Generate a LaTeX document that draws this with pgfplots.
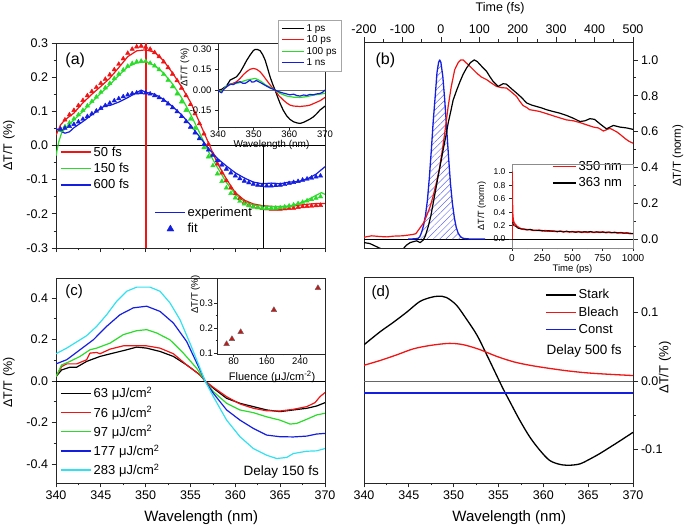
\documentclass[border=0pt]{standalone}
\usepackage{fontspec}
\setmainfont{Liberation Sans}
\usepackage{pgfplots}
\pgfplotsset{compat=1.18}
\usetikzlibrary{patterns.meta}

\definecolor{cred}{RGB}{240,20,20}
\definecolor{cgreen}{RGB}{40,220,40}
\definecolor{cblue}{RGB}{20,30,225}
\definecolor{ccyan}{RGB}{50,225,240}
\definecolor{tri}{RGB}{205,20,20}

\newcommand{\fs}[1]{\fontsize{#1}{#1}\selectfont}

\pgfplotsset{
  base/.style={
    scale only axis, anchor=south west,
    axis line style={black!85, line width=0.8pt},
    tick style={black!85, line width=0.7pt},
    tick align=outside,
    major tick length=4.5pt, minor tick length=2.5pt,
    /pgf/number format/assume math mode=true,
    /pgf/number format/1000 sep={},
    tick label style={font=\fs{12.5}},
    legend cell align=left,
    legend image code/.code={\draw[mark repeat=2,mark phase=2,##1] plot coordinates {(0pt,0pt)(15pt,0pt)(30pt,0pt)};},
    legend image post style={line width=1.5pt},
    every axis plot/.append style={line join=round},
  },
  wl/.style={xmin=340, xmax=370, xtick={340,345,...,370}, minor x tick num=1},
  prec/.style={yticklabel style={/pgf/number format/fixed, /pgf/number format/fixed zerofill,
    /pgf/number format/precision=#1}},
}

\begin{document}
\begin{tikzpicture}
\path[use as bounding box] (0,0) rectangle (685pt,526pt);

% ---------------- (a) ----------------
\begin{axis}[base, wl, at={(56pt,278pt)}, width=269pt, height=205pt,
  ymin=-0.3, ymax=0.3, ytick={-0.3,-0.2,-0.1,0,0.1,0.2,0.3}, minor y tick num=1,
  xticklabels={}, xtick pos=bottom, ytick pos=left, prec=1,
  ylabel={ΔT/T (\%)},
  every axis y label/.style={at={(axis description cs:-0.175,0.5)}, rotate=90, anchor=center, font=\fs{12.5}},
  legend style={at={(axis description cs:0.015,0.505)}, anchor=north west, draw=none, fill=none,
    font=\fs{13}, row sep=1.5pt, inner sep=0pt},
]
\addplot[black, line width=0.8pt, forget plot] coordinates {(340,0) (370,0)};
\addplot[color=cred, line width=1.2pt] coordinates {
(340,0.030) (340.5,0.060) (341,0.075) (342,0.095) (343,0.125) (344,0.150) (345,0.173) (346,0.197)
(347,0.228) (348,0.260) (349,0.277) (350,0.280) (351,0.273) (352,0.248) (353,0.212) (354,0.172)
(355,0.127) (356,0.068) (357,0.008) (358,-0.052) (359,-0.098) (360,-0.138) (361,-0.160) (362,-0.171)
(363,-0.176) (364,-0.178) (365,-0.179) (366,-0.178) (367,-0.175) (368,-0.172) (369,-0.170) (370,-0.170)};
\addlegendentry{50 fs}
\addplot[only marks, mark=triangle*, mark size=2.6pt, color=cred, forget plot] coordinates {
(340.5,0.048) (341.0,0.075) (341.5,0.090) (342.0,0.103) (342.5,0.117) (343.0,0.132) (343.5,0.146)
(344.0,0.158) (344.5,0.170) (345.0,0.182) (345.5,0.194) (346.0,0.207) (346.5,0.222) (347.0,0.238)
(347.5,0.254) (348.0,0.270) (348.5,0.282) (349.0,0.289) (349.5,0.291) (350.0,0.288) (350.5,0.282)
(351.0,0.272) (351.5,0.260) (352.0,0.245) (352.5,0.228) (353.0,0.209) (353.5,0.190) (354.0,0.168)
(354.5,0.146) (355.0,0.120) (355.5,0.093) (356.0,0.064) (356.5,0.034) (357.0,0.004) (357.5,-0.026)
(358.0,-0.054) (358.5,-0.080) (359.0,-0.103) (359.5,-0.124) (360.0,-0.141) (360.5,-0.155) (361.0,-0.166)
(361.5,-0.174) (362.0,-0.179) (362.5,-0.182) (363.0,-0.184) (363.5,-0.185) (364.0,-0.186) (364.5,-0.186)
(365.0,-0.186) (365.5,-0.185) (366.0,-0.184) (366.5,-0.183) (367.0,-0.181) (367.5,-0.179) (368.0,-0.178)
(368.5,-0.177) (369.0,-0.176) (369.5,-0.175)};
\addplot[color=cgreen, line width=1.2pt] coordinates {
(340,-0.030) (340.3,0.010) (340.6,0.035) (341,0.050) (342,0.075) (343,0.100) (344,0.127) (345,0.153)
(346,0.178) (347,0.205) (348,0.230) (349,0.242) (350,0.245) (351,0.234) (352,0.212) (353,0.180)
(354,0.140) (355,0.092) (356,0.038) (357,-0.018) (358,-0.064) (359,-0.108) (360,-0.143) (361,-0.164)
(362,-0.174) (363,-0.178) (364,-0.179) (365,-0.179) (366,-0.177) (367,-0.171) (368,-0.160) (369,-0.146)
(369.6,-0.138) (370,-0.143)};
\addlegendentry{150 fs}
\addplot[only marks, mark=triangle*, mark size=2.6pt, color=cgreen, forget plot] coordinates {
(340.5,0.045) (341.0,0.055) (341.5,0.066) (342.0,0.078) (342.5,0.090) (343.0,0.103) (343.5,0.116)
(344.0,0.129) (344.5,0.142) (345.0,0.156) (345.5,0.169) (346.0,0.182) (346.5,0.196) (347.0,0.209)
(347.5,0.221) (348.0,0.232) (348.5,0.240) (349.0,0.245) (349.5,0.247) (350.0,0.246) (350.5,0.241)
(351.0,0.233) (351.5,0.222) (352.0,0.208) (352.5,0.191) (353.0,0.172) (353.5,0.151) (354.0,0.128)
(354.5,0.103) (355.0,0.077) (355.5,0.050) (356.0,0.022) (356.5,-0.006) (357.0,-0.033) (357.5,-0.059)
(358.0,-0.083) (358.5,-0.105) (359.0,-0.124) (359.5,-0.140) (360.0,-0.153) (360.5,-0.163) (361.0,-0.171)
(361.5,-0.176) (362.0,-0.180) (362.5,-0.182) (363.0,-0.183) (363.5,-0.184) (364.0,-0.184) (364.5,-0.183)
(365.0,-0.182) (365.5,-0.180) (366.0,-0.177) (366.5,-0.174) (367.0,-0.170) (367.5,-0.166) (368.0,-0.162)
(368.5,-0.158) (369.0,-0.154) (369.5,-0.150)};
\addplot[color=cblue, line width=1.2pt] coordinates {
(340,0.050) (340.5,0.042) (341,0.036) (341.5,0.040) (342,0.052) (343,0.070) (344,0.090) (345,0.108)
(345.5,0.118) (346,0.117) (347,0.127) (348,0.140) (349,0.155) (349.5,0.162) (350,0.156) (351,0.150)
(352,0.135) (353,0.114) (354,0.090) (355,0.060) (356,0.026) (357,-0.008) (358,-0.038) (359,-0.060)
(360,-0.080) (361,-0.095) (362,-0.107) (363,-0.112) (364,-0.110) (365,-0.112) (366,-0.107) (367,-0.106)
(368,-0.098) (369,-0.084) (370,-0.062)};
\addlegendentry{600 fs}
\addplot[only marks, mark=triangle*, mark size=2.6pt, color=cblue, forget plot] coordinates {
(340.5,0.048) (341.0,0.051) (341.5,0.056) (342.0,0.062) (342.5,0.069) (343.0,0.077) (343.5,0.085)
(344.0,0.093) (344.5,0.101) (345.0,0.109) (345.5,0.117) (346.0,0.124) (346.5,0.131) (347.0,0.137)
(347.5,0.143) (348.0,0.148) (348.5,0.152) (349.0,0.154) (349.5,0.155) (350.0,0.154) (350.5,0.151)
(351.0,0.146) (351.5,0.140) (352.0,0.132) (352.5,0.122) (353.0,0.111) (353.5,0.099) (354.0,0.085)
(354.5,0.070) (355.0,0.054) (355.5,0.037) (356.0,0.020) (356.5,0.003) (357.0,-0.013) (357.5,-0.029)
(358.0,-0.044) (358.5,-0.057) (359.0,-0.069) (359.5,-0.080) (360.0,-0.089) (360.5,-0.097) (361.0,-0.104)
(361.5,-0.109) (362.0,-0.113) (362.5,-0.116) (363.0,-0.117) (363.5,-0.118) (364.0,-0.118) (364.5,-0.117)
(365.0,-0.116) (365.5,-0.114) (366.0,-0.111) (366.5,-0.108) (367.0,-0.105) (367.5,-0.101) (368.0,-0.098)
(368.5,-0.095) (369.0,-0.092) (369.5,-0.089)};
\addplot[draw=cred, line width=1.8pt, forget plot] coordinates {(350,-0.3) (350,0) (350,0.3)};
\addplot[draw=black, line width=1pt, forget plot] coordinates {(363.1,0) (363.1,-0.3)};
\node[anchor=west, font=\fs{16}] at (axis description cs:0.022,0.917) {(a)};
\end{axis}

% experiment / fit legend of (a)
\begin{axis}[base, hide axis, at={(56pt,278pt)}, width=269pt, height=205pt,
  xmin=0, xmax=1, ymin=0, ymax=1,
  legend style={at={(axis description cs:0.368,0.21)}, anchor=north west, draw=none, fill=none,
    font=\fs{13}, row sep=1.5pt, inner sep=0pt},
  legend image post style={line width=0.4pt},
]
\addlegendimage{color=cblue, line width=1.5pt}
\addlegendentry{experiment}
\addlegendimage{only marks, mark=triangle*, mark size=4pt, color=cblue}
\addlegendentry{fit}
\end{axis}

% inset of (a)
\begin{axis}[base, at={(218pt,399pt)}, width=107pt, height=84pt,
  axis background/.style={fill=white},
  axis line style={black!85, line width=0.7pt},
  xmin=340, xmax=370, xtick={340,350,360,370}, minor x tick num=1,
  ymin=-0.27, ymax=0.344, ytick={-0.15,0,0.15,0.3},
  xtick pos=bottom, ytick pos=left, prec=2,
  tick label style={font=\fs{9.5}}, major tick length=3pt, minor tick length=1.5pt,
  xticklabel style={inner sep=0.5pt},
  xlabel={Wavelength (nm)}, ylabel={ΔT/T (\%)},
  every axis x label/.style={at={(axis description cs:0.5,-0.215)}, anchor=center, font=\fs{10}},
  every axis y label/.style={at={(axis description cs:-0.31,0.71)}, rotate=90, anchor=center, font=\fs{9.5}},
  legend style={at={(axis description cs:0.561,1.274)}, anchor=north west, draw=black!35, line width=0.5pt,
    fill=white, font=\fs{10}, row sep=-1pt, inner xsep=3pt, inner ysep=2pt},
  legend image code/.code={\draw[#1] (0pt,0pt) -- (22pt,0pt);},
  legend image post style={line width=1.3pt},
]
\addplot[black!60, line width=0.6pt, forget plot] coordinates {(340,0) (370,0)};
\addplot[color=black, line width=1.2pt] coordinates {
(340.1,0.0) (341,0.005) (342.4,0.03) (343.4,0.073) (344.3,0.085) (345.2,0.097) (346.2,0.13) (347.1,0.171)
(348,0.215) (349,0.256) (349.9,0.288) (350.4,0.297) (351.1,0.296) (351.8,0.288) (352.5,0.26) (353.2,0.22)
(353.9,0.16) (354.6,0.097) (355.3,0.045) (356,0.0) (356.7,-0.05) (357.4,-0.097) (358.3,-0.148) (359.3,-0.19)
(360.2,-0.215) (361.2,-0.232) (362.1,-0.24) (363,-0.244) (364,-0.236) (364.9,-0.224) (365.8,-0.212)
(366.8,-0.195) (367.7,-0.172) (368.6,-0.146) (369.4,-0.13) (370,-0.117)};
\addlegendentry{1 ps}
\addplot[color=cred, line width=1.2pt] coordinates {
(340.1,0) (341,-0.005) (342.4,0.024) (343.4,0.04) (344.3,0.05) (345.2,0.061) (346.2,0.085) (347.1,0.112)
(348,0.134) (349,0.152) (349.9,0.158) (350.8,0.152) (351.8,0.134) (352.7,0.105) (353.6,0.073) (354.6,0.038)
(355.3,0.015) (356,0) (357,-0.04) (358.3,-0.073) (359.3,-0.095) (360.2,-0.11) (361.2,-0.117) (363,-0.12)
(364.9,-0.115) (365.8,-0.11) (366.7,-0.1) (368.6,-0.078) (370,-0.054)};
\addlegendentry{10 ps}
\addplot[color=cgreen, line width=1.2pt] coordinates {
(340.1,0) (341,-0.01) (342.4,0.03) (343.4,0.04) (345.2,0.049) (346.2,0.055) (347.1,0.065) (348,0.073)
(349,0.078) (350.4,0.085) (351.3,0.075) (352.2,0.061) (353.2,0.04) (354.6,0.02) (356,0) (357.4,-0.025)
(359.3,-0.044) (361.2,-0.052) (363,-0.054) (364.9,-0.048) (366.7,-0.037) (368.6,-0.03) (370,-0.024)};
\addlegendentry{100 ps}
\addplot[color=cblue, line width=1.2pt] coordinates {
(340.1,0) (340.6,-0.015) (341,-0.02) (341.6,0.005) (342.4,0.025) (343.4,0.044) (344.3,0.04) (345.2,0.055)
(346.2,0.061) (346.9,0.05) (347.6,0.049) (348.3,0.06) (349,0.073) (349.5,0.058) (350.1,0.06) (350.7,0.07)
(351.3,0.062) (352.2,0.05) (353.2,0.035) (353.6,0.029) (354.6,0.015) (355.3,0.008) (356,0) (357,-0.012)
(358.3,-0.022) (359.3,-0.029) (360.2,-0.035) (361.2,-0.03) (362.1,-0.04) (363,-0.044) (364,-0.036)
(364.9,-0.04) (365.8,-0.032) (366.7,-0.035) (367.7,-0.028) (368.6,-0.025) (369.4,-0.015) (370,0.0)};
\addlegendentry{1 ns}
\end{axis}

% ---------------- (b) ----------------
\begin{axis}[base, at={(364pt,278pt)}, width=269pt, height=206pt,
  xmin=-200, xmax=500, xtick={-200,-100,0,100,200,300,400,500}, minor x tick num=1,
  ymin=-0.05, ymax=1.10, ytick={0,0.2,0.4,0.6,0.8,1.0}, minor y tick num=1,
  xtick pos=upper, xticklabel pos=upper, ytick pos=right, yticklabel pos=right, prec=1,
  xlabel={Time (fs)}, ylabel={ΔT/T (norm)},
  every axis x label/.style={at={(axis description cs:0.506,1.165)}, anchor=center, font=\fs{12.5}},
  every axis y label/.style={at={(axis description cs:1.167,0.447)}, rotate=90, anchor=center, font=\fs{11.5}},
  legend style={at={(axis description cs:0.699,0.432)}, anchor=north west, draw=none, fill=none,
    font=\fs{13}, row sep=2pt, inner sep=0pt},
  legend image code/.code={\draw[#1] (0pt,0pt) -- (23pt,0pt);},
]
\addplot[black, line width=0.7pt, forget plot] coordinates {(-200,0) (500,0)};
\addplot[draw=none, pattern={Lines[angle=45, distance=4.5pt, line width=0.5pt]}, pattern color=cblue!65, forget plot]
coordinates {(-85,0) (-70,0.001) (-60,0.003) (-55,0.012) (-50,0.038) (-45,0.076) (-40,0.132) (-35,0.216)
(-30,0.341) (-25,0.49) (-20,0.653) (-15,0.79) (-10,0.93) (-6,0.985) (-3,1.0) (0,0.987) (5,0.91) (10,0.779)
(15,0.62) (20,0.458) (25,0.31) (30,0.2) (35,0.12) (40,0.065) (45,0.033) (50,0.016) (55,0.007) (60,0.003)
(70,0.001) (80,0)} \closedcycle;
\addplot[color=cblue, line width=1.3pt, forget plot] coordinates {(-85,0) (-70,0.001) (-60,0.003) (-55,0.012)
(-50,0.038) (-45,0.076) (-40,0.132) (-35,0.216) (-30,0.341) (-25,0.49) (-20,0.653) (-15,0.79) (-10,0.93)
(-6,0.985) (-3,1.0) (0,0.987) (5,0.91) (10,0.779) (15,0.62) (20,0.458) (25,0.31) (30,0.2) (35,0.12)
(40,0.065) (45,0.033) (50,0.016) (55,0.007) (60,0.003) (70,0.001) (80,0) (115,0)};
\addplot[color=cred, line width=1.2pt] coordinates {
(-200,0.010) (-180,0.018) (-158,0.014) (-140,0.012) (-124,0.016) (-100,0.018) (-85,0.022) (-72,0.026)
(-65,0.030) (-55,0.060) (-45,0.090) (-37,0.130) (-28,0.180) (-20,0.240) (-10,0.330) (-3,0.400) (4,0.500)
(10,0.590) (19,0.740) (27,0.850) (36,0.945) (45,0.985) (52,1.000) (58,1.000) (65,0.985) (71,0.974)
(80,0.955) (93,0.927) (105,0.905) (119,0.890) (132,0.870) (145,0.852) (158,0.845) (171,0.843) (184,0.820)
(197,0.796) (205,0.770) (214,0.745) (223,0.735) (231,0.722) (245,0.717) (257,0.712) (275,0.700)
(292,0.688) (310,0.676) (327,0.665) (345,0.660) (362,0.650) (380,0.637) (397,0.625) (410,0.620)
(423,0.603) (440,0.618) (458,0.598) (470,0.578) (480,0.560) (490,0.545) (500,0.535)};
\addlegendentry{350 nm}
\addplot[color=black, line width=1.2pt] coordinates {
(-200,-0.02) (-185,-0.025) (-170,-0.04) (-160,-0.05) (-150,-0.06) (-120,-0.065) (-100,-0.06) (-90,-0.035)
(-80,-0.02) (-72,-0.015) (-63,-0.01) (-54,-0.02) (-46,-0.006) (-40,0.02) (-33,0.069) (-26,0.13) (-20,0.2)
(-13,0.28) (-7,0.352) (0,0.43) (6,0.498) (13,0.575) (19,0.647) (26,0.715) (32,0.776) (41,0.83) (50,0.88)
(58,0.92) (67,0.955) (77,0.985) (87,1.0) (95,0.99) (102,0.974) (110,0.955) (119,0.936) (128,0.905)
(136,0.88) (149,0.852) (156,0.86) (162,0.867) (170,0.865) (175,0.856) (186,0.835) (197,0.815) (210,0.79)
(223,0.76) (236,0.748) (249,0.74) (262,0.732) (275,0.722) (292,0.712) (309,0.703) (327,0.69) (344,0.675)
(362,0.656) (375,0.66) (388,0.672) (400,0.668) (414,0.643) (431,0.615) (440,0.625) (449,0.634) (466,0.625)
(484,0.62) (500,0.612)};
\addlegendentry{363 nm}
\node[anchor=west, font=\fs{16}] at (axis description cs:0.03,0.913) {(b)};
\end{axis}

% inset of (b)
\begin{axis}[base, at={(512pt,278pt)}, width=121pt, height=84pt,
  axis line style={black!45, line width=0.7pt},
  xmin=0, xmax=1000, xtick={0,250,500,750,1000}, minor x tick num=1,
  ymin=-0.134, ymax=1.12, ytick={0,0.2,0.4,0.6,0.8,1.0},
  xtick pos=bottom, ytick pos=left, prec=1,
  tick label style={font=\fs{10}}, yticklabel style={font=\fs{8.5}},
  major tick length=3pt, minor tick length=1.5pt,
  xlabel={Time (ps)}, ylabel={ΔT/T (norm)},
  every axis x label/.style={at={(axis description cs:0.5,-0.25)}, anchor=center, font=\fs{9.5}},
  every axis y label/.style={at={(axis description cs:-0.25,0.5)}, rotate=90, anchor=center, font=\fs{9}},
]
\addplot[black, line width=0.7pt] coordinates {(0,0) (1000,0)};
\addplot[color=cred, line width=1.6pt] coordinates {
(0,0.0) (1,1.0) (3,0.55) (6,0.35) (10,0.28) (15,0.25) (25,0.22) (40,0.19) (60,0.165) (80,0.15) (100,0.145)
(125,0.14) (150,0.14) (175,0.13) (200,0.128) (225,0.132) (250,0.12) (275,0.125) (300,0.118) (325,0.122)
(350,0.115) (375,0.112) (400,0.118) (425,0.108) (450,0.112) (475,0.105) (500,0.11) (525,0.104) (550,0.11)
(575,0.1) (600,0.106) (625,0.1) (650,0.108) (675,0.098) (700,0.104) (725,0.1) (750,0.105) (775,0.096)
(800,0.1) (825,0.094) (850,0.098) (875,0.09) (900,0.094) (925,0.088) (950,0.09) (975,0.082) (1000,0.08)};
\addplot[color=black, line width=0.8pt] coordinates {
(5,0.25) (15,0.2) (30,0.19) (50,0.16) (75,0.15) (100,0.15) (125,0.135) (150,0.145) (175,0.13) (200,0.13)
(225,0.125) (250,0.13) (275,0.118) (300,0.125) (325,0.115) (350,0.12) (375,0.11) (400,0.115) (425,0.105)
(450,0.118) (475,0.108) (500,0.11) (525,0.1) (550,0.108) (575,0.102) (600,0.11) (625,0.105) (650,0.112)
(675,0.1) (700,0.108) (725,0.1) (750,0.104) (775,0.098) (800,0.105) (825,0.096) (850,0.1) (875,0.092)
(900,0.095) (925,0.088) (950,0.09) (975,0.085) (1000,0.082)};
\end{axis}

% ---------------- (c) ----------------
\begin{axis}[base, wl, at={(56pt,43pt)}, width=269pt, height=205pt,
  ymin=-0.492, ymax=0.496, ytick={-0.4,-0.2,0,0.2,0.4}, minor y tick num=1,
  xtick pos=bottom, ytick pos=left, prec=1,
  xlabel={Wavelength (nm)}, ylabel={ΔT/T (\%)},
  every axis x label/.style={at={(axis description cs:0.54,-0.17)}, anchor=center, font=\fs{15}},
  every axis y label/.style={at={(axis description cs:-0.175,0.49)}, rotate=90, anchor=center, font=\fs{12.5}},
  legend style={at={(axis description cs:0.015,0.478)}, anchor=north west, draw=none, fill=none,
    font=\fs{13}, row sep=3pt, inner sep=0pt},
]
\addplot[black, line width=0.8pt, forget plot] coordinates {(340,0) (370,0)};
\addplot[color=black, line width=1.2pt] coordinates {
(340,0.021) (340.63,0.053) (341.56,0.066) (342.3,0.066) (343.42,0.094) (344.91,0.118) (346.39,0.134)
(347.88,0.150) (349.0,0.163) (350.11,0.158) (351.6,0.142) (353.09,0.118) (354.57,0.077) (356.06,0.029)
(356.62,0.0) (357.55,-0.035) (359.03,-0.084) (360.52,-0.108) (362.01,-0.124) (363.49,-0.140)
(364.98,-0.148) (366.47,-0.140) (367.96,-0.132) (369.07,-0.121) (370,-0.105)};
\addlegendentry{63 μJ/cm\textsuperscript{2}}
\addplot[color=cred, line width=1.2pt] coordinates {
(340,0.021) (340.63,0.069) (341.19,0.082) (342.3,0.082) (343.42,0.102) (343.79,0.134) (344.54,0.137)
(344.91,0.131) (346.02,0.153) (347.51,0.169) (349.0,0.169) (350.11,0.169) (351.6,0.158) (353.09,0.131)
(354.57,0.077) (356.06,0.029) (356.62,0.0) (357.55,-0.031) (359.03,-0.076) (360.52,-0.111) (362.01,-0.132)
(363.49,-0.144) (364.98,-0.145) (366.47,-0.137) (367.96,-0.124) (368.88,-0.105) (369.44,-0.076) (370,-0.056)};
\addlegendentry{76 μJ/cm\textsuperscript{2}}
\addplot[color=cgreen, line width=1.2pt] coordinates {
(340,0.021) (340.63,0.077) (341.56,0.094) (342.68,0.118) (343.79,0.150) (344.54,0.158) (346.02,0.182)
(347.51,0.223) (349.0,0.242) (350.11,0.247) (351.23,0.231) (352.71,0.198) (354.2,0.134) (355.69,0.061)
(356.62,0.0) (357.55,-0.052) (359.03,-0.108) (360.52,-0.140) (362.01,-0.153) (363.49,-0.173) (364.98,-0.189)
(366.1,-0.208) (366.84,-0.205) (367.96,-0.185) (369.07,-0.164) (370,-0.156)};
\addlegendentry{97 μJ/cm\textsuperscript{2}}
\addplot[color=cblue, line width=1.2pt] coordinates {
(340,0.082) (341.19,0.102) (342.68,0.150) (344.16,0.198) (345.65,0.263) (347.14,0.319) (348.62,0.352)
(350.11,0.360) (351.6,0.335) (353.09,0.279) (354.57,0.190) (356.06,0.053) (356.62,0.0) (357.55,-0.060)
(359.03,-0.140) (360.52,-0.189) (362.01,-0.229) (363.49,-0.261) (364.98,-0.269) (366.47,-0.270)
(367.96,-0.266) (369.07,-0.256) (370,-0.253)};
\addlegendentry{177 μJ/cm\textsuperscript{2}}
\addplot[color=ccyan, line width=1.2pt] coordinates {
(340,0.131) (341.19,0.158) (342.68,0.198) (343.42,0.218) (344.54,0.263) (345.65,0.319) (346.77,0.384)
(347.88,0.432) (349.0,0.452) (350.48,0.452) (351.6,0.432) (352.71,0.376) (353.83,0.295) (354.94,0.182)
(356.06,0.061) (356.62,0.0) (357.55,-0.076) (359.03,-0.189) (360.52,-0.269) (362.01,-0.326) (363.49,-0.358)
(364.61,-0.374) (365.72,-0.369) (366.47,-0.350) (367.96,-0.339) (369.07,-0.337) (370,-0.326)};
\addlegendentry{283 μJ/cm\textsuperscript{2}}
\node[anchor=west, font=\fs{15}] at (axis description cs:0.022,0.932) {(c)};
\node[anchor=east, font=\fs{13.5}] at (axis description cs:0.99,0.054) {Delay 150 fs};
\end{axis}

% inset of (c)
\begin{axis}[base, at={(217pt,172pt)}, width=108pt, height=76pt,
  axis background/.style={fill=white},
  axis line style={black!85, line width=0.7pt},
  xmin=40, xmax=300, xtick={80,160,240}, minor x tick num=1,
  ymin=0.096, ymax=0.40, ytick={0.1,0.2,0.3}, minor y tick num=1,
  xtick pos=bottom, ytick pos=left, prec=1,
  tick label style={font=\fs{9.5}}, major tick length=3pt, minor tick length=1.5pt,
  xticklabel style={inner sep=1pt}, yticklabel style={inner sep=1pt},
  xlabel={Fluence (μJ/cm\textsuperscript{-2})}, ylabel={ΔT/T (\%)},
  every axis x label/.style={at={(axis description cs:0.51,-0.30)}, anchor=center, font=\fs{11}},
  every axis y label/.style={at={(axis description cs:-0.2,0.78)}, rotate=90, anchor=center, font=\fs{9.5}},
]
\addplot[only marks, mark=triangle*, mark size=3.3pt, mark options={fill=tri, draw=black!60, line width=0.4pt}]
coordinates {(63,0.136) (76,0.156) (97,0.184) (177,0.272) (283,0.360)};
\end{axis}

% ---------------- (d) ----------------
\begin{axis}[base, wl, at={(364pt,43pt)}, width=269pt, height=206pt,
  ymin=-0.149, ymax=0.152, ytick={-0.1,0,0.1}, minor y tick num=1,
  xtick pos=bottom, ytick pos=right, yticklabel pos=right, prec=1,
  xlabel={Wavelength (nm)}, ylabel={ΔT/T (\%)},
  every axis x label/.style={at={(axis description cs:0.54,-0.17)}, anchor=center, font=\fs{15}},
  every axis y label/.style={at={(axis description cs:1.119,0.56)}, rotate=90, anchor=center, font=\fs{13}},
  legend style={at={(axis description cs:0.673,0.95)}, anchor=north west, draw=none, fill=none,
    font=\fs{13}, row sep=2.5pt, inner sep=0pt},
]
\addplot[black!60, line width=0.7pt, forget plot] coordinates {(340,0) (370,0)};
\addplot[color=black, line width=1.3pt, smooth] coordinates {
(340,0.053) (341.8,0.072) (343.3,0.086) (344.8,0.101) (346.2,0.116) (347.4,0.122) (348.3,0.124)
(349.2,0.122) (350.3,0.111) (351.4,0.091) (352.6,0.067) (353.7,0.038) (354.8,0.008) (355.5,-0.011)
(356.3,-0.031) (357.4,-0.058) (358.5,-0.082) (359.6,-0.101) (360.7,-0.116) (361.9,-0.122) (363.0,-0.123)
(364.1,-0.121) (365.2,-0.114) (366.3,-0.106) (367.4,-0.097) (368.6,-0.087) (370,-0.075)};
\addlegendentry{Stark}
\addplot[color=cred, line width=1.3pt, smooth] coordinates {
(340,0.023) (341.8,0.030) (343.6,0.038) (345.5,0.047) (347.4,0.052) (349.5,0.055) (351.1,0.053)
(352.9,0.046) (354.8,0.036) (356.7,0.028) (358.5,0.023) (360.4,0.019) (362.6,0.015) (364.8,0.012)
(367.1,0.010) (370,0.008)};
\addlegendentry{Bleach}
\addplot[color=cblue, line width=1.7pt] coordinates {(340,-0.018) (355,-0.018) (370,-0.018)};
\addlegendentry{Const}
\node[anchor=west, font=\fs{15}] at (axis description cs:0.015,0.922) {(d)};
\node[anchor=center, font=\fs{13.5}] at (axis description cs:0.818,0.64) {Delay 500 fs};
\end{axis}
\end{tikzpicture}
\end{document}
